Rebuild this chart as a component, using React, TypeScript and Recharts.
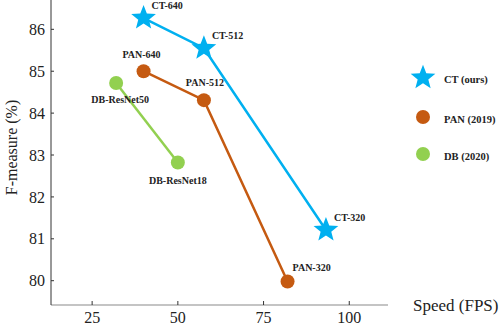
import React from "react";
import {
  ScatterChart,
  Scatter,
  XAxis,
  YAxis,
  Legend,
  Label,
} from "recharts";

// values
const ctSpeed = [40, 57.6, 93.2];
const ctFmeasure = [86.27, 85.55, 81.21];
const ctNames = ["CT-640", "CT-512", "CT-320"];

const panSpeed = [40, 57.6, 82];
const panFmeasure = [85.0, 84.31, 79.98];
const panNames = ["PAN-640", "PAN-512", "PAN-320"];

const dbSpeed = [32, 50];
const dbFmeasure = [84.72, 82.82];
const dbNames = ["DB-ResNet50", "DB-ResNet18"];

const xTicks = [25, 50, 75, 100];
const yTicks = [80, 81, 82, 83, 84, 85, 86];

const FONT = "'Liberation Serif', 'Times New Roman', serif";

const BLUE = "#00B0F0";
const ORANGE = "#C55A11";
const GREEN = "#92D050";

const toPoints = (xs: number[], ys: number[], names: string[]) =>
  xs.map((x, i) => ({ x, y: ys[i], name: names[i] }));

const ctData = toPoints(ctSpeed, ctFmeasure, ctNames);
const panData = toPoints(panSpeed, panFmeasure, panNames);
const dbData = toPoints(dbSpeed, dbFmeasure, dbNames);

// where each point label sits relative to its marker
const LABEL_POS: Record<string, { dx: number; dy: number; anchor: string }> = {
  "CT-640": { dx: 8, dy: -13, anchor: "start" },
  "CT-512": { dx: 8, dy: -13, anchor: "start" },
  "CT-320": { dx: 8, dy: -13, anchor: "start" },
  "PAN-640": { dx: -2, dy: -17, anchor: "middle" },
  "PAN-512": { dx: 1, dy: -18, anchor: "middle" },
  "PAN-320": { dx: 5, dy: -14, anchor: "start" },
  "DB-ResNet50": { dx: 4, dy: 17, anchor: "middle" },
  "DB-ResNet18": { dx: 0, dy: 18, anchor: "middle" },
};

function starPath(cx: number, cy: number, ro: number, ri: number) {
  let d = "";
  for (let i = 0; i < 10; i++) {
    const r = i % 2 === 0 ? ro : ri;
    const a = -Math.PI / 2 + (i * Math.PI) / 5;
    d += (i === 0 ? "M" : "L") + (cx + r * Math.cos(a)) + "," + (cy + r * Math.sin(a));
  }
  return d + "Z";
}

function PointLabel({ cx, cy, name }: { cx: number; cy: number; name: string }) {
  const p = LABEL_POS[name] ?? { dx: 8, dy: -12, anchor: "start" };
  return (
    <text
      x={cx + p.dx}
      y={cy + p.dy}
      textAnchor={p.anchor as any}
      dominantBaseline="central"
      fontFamily={FONT}
      fontWeight="bold"
      fontSize={10}
      fill="#222"
    >
      {name}
    </text>
  );
}

const starShape = (props: any) => (
  <g>
    <path d={starPath(props.cx, props.cy, 13, 5.6)} fill={BLUE} />
    <PointLabel cx={props.cx} cy={props.cy} name={props.payload.name} />
  </g>
);

const circleShape = (color: string) => (props: any) => (
  <g>
    <circle cx={props.cx} cy={props.cy} r={7} fill={color} />
    <PointLabel cx={props.cx} cy={props.cy} name={props.payload.name} />
  </g>
);

const LEGEND_ITEMS = [
  { label: "CT (ours)", color: BLUE, star: true },
  { label: "PAN (2019)", color: ORANGE, star: false },
  { label: "DB (2020)", color: GREEN, star: false },
];

function LegendBox() {
  const rows = [22.7, 62, 99];
  return (
    <svg width={100} height={120}>
      {LEGEND_ITEMS.map((it, i) => (
        <g key={it.label}>
          {it.star ? (
            <path d={starPath(23, rows[i], 13, 5.6)} fill={it.color} />
          ) : (
            <circle cx={23} cy={rows[i]} r={7} fill={it.color} />
          )}
          <text
            x={44}
            y={rows[i] + 2}
            dominantBaseline="central"
            fontFamily={FONT}
            fontWeight="bold"
            fontSize={10.5}
            fill="#222"
          >
            {it.label}
          </text>
        </g>
      ))}
    </svg>
  );
}

export default function App() {
  return (
    <div style={{ position: "absolute", left: 0, top: 0, background: "#fff" }}>
      <ScatterChart
        width={500}
        height={326}
        margin={{ top: 0, right: 112, bottom: 0, left: 0 }}
      >
        <XAxis
          type="number"
          dataKey="x"
          domain={[13, 111.3]}
          allowDataOverflow
          ticks={xTicks}
          height={21}
          tickSize={-4}
          tickMargin={11}
          axisLine={{ stroke: "#b0b0b0", strokeWidth: 1.5 }}
          tickLine={{ stroke: "#333" }}
          tick={{ fontFamily: FONT, fontSize: 16, fill: "#222" }}
        >
          <Label
            content={({ viewBox }: any) => (
              <text
                x={viewBox.x + viewBox.width + 25}
                y={viewBox.y}
                dominantBaseline="central"
                fontFamily={FONT}
                fontSize={17}
                fill="#222"
              >
                Speed (FPS)
              </text>
            )}
          />
        </XAxis>
        <YAxis
          type="number"
          dataKey="y"
          domain={[79.42, 86.7]}
          allowDataOverflow
          ticks={yTicks}
          width={51}
          tickSize={-3}
          tickMargin={9}
          axisLine={{ stroke: "#333" }}
          tickLine={{ stroke: "#333" }}
          tick={{ fontFamily: FONT, fontSize: 16, fill: "#222" }}
        >
          <Label
            content={({ viewBox }: any) => {
              const x = viewBox.x + 11;
              const y = viewBox.y + viewBox.height / 2 - 5;
              return (
                <text
                  x={x}
                  y={y}
                  transform={`rotate(-90 ${x} ${y})`}
                  textAnchor="middle"
                  dominantBaseline="central"
                  fontFamily={FONT}
                  fontSize={16}
                  fill="#222"
                >
                  F-measure (%)
                </text>
              );
            }}
          />
        </YAxis>
        <Legend
          layout="horizontal"
          verticalAlign="middle"
          align="center"
          wrapperStyle={{ position: "absolute", left: 400, top: 55, width: 100, height: 120 }}
          content={() => <LegendBox />}
        />
        <Scatter
          name="DB (2020)"
          data={dbData}
          line={{ stroke: GREEN, strokeWidth: 2.5 }}
          shape={circleShape(GREEN)}
          isAnimationActive={false}
        />
        <Scatter
          name="PAN (2019)"
          data={panData}
          line={{ stroke: ORANGE, strokeWidth: 2.5 }}
          shape={circleShape(ORANGE)}
          isAnimationActive={false}
        />
        <Scatter
          name="CT (ours)"
          data={ctData}
          line={{ stroke: BLUE, strokeWidth: 2.5 }}
          shape={starShape}
          isAnimationActive={false}
        />
      </ScatterChart>
    </div>
  );
}
